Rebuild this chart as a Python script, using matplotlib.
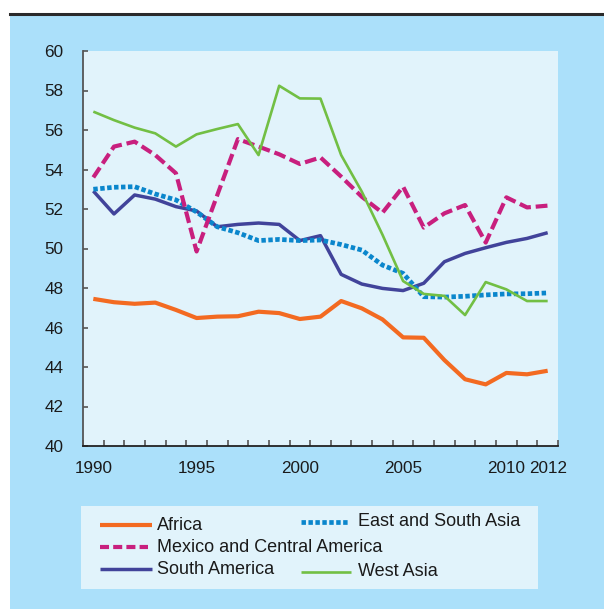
import matplotlib
matplotlib.use("Agg")
import matplotlib.pyplot as plt
from matplotlib.lines import Line2D
from matplotlib.patches import Rectangle

plt.rcParams['font.family'] = ['Liberation Sans', 'DejaVu Sans']
plt.rcParams['lines.scale_dashes'] = False

years = list(range(1990, 2013))
africa = [47.45, 47.28, 47.2, 47.26, 46.89, 46.48, 46.55, 46.57, 46.8, 46.73, 46.43, 46.55,
          47.34, 46.97, 46.41, 45.5, 45.48, 44.35, 43.38, 43.12, 43.7, 43.63, 43.81]
east_south_asia = [53.0, 53.1, 53.13, 52.76, 52.46, 51.85, 51.1, 50.8, 50.4, 50.46, 50.4, 50.43,
                   50.2, 49.92, 49.16, 48.74, 47.56, 47.54, 47.58, 47.65, 47.7, 47.71, 47.75]
mexico_central = [53.6, 55.16, 55.41, 54.73, 53.81, 49.85, 52.7, 55.54, 55.16, 54.77, 54.28, 54.61,
                  53.64, 52.62, 51.81, 53.13, 51.06, 51.78, 52.2, 50.3, 52.59, 52.08, 52.17]
south_america = [52.91, 51.75, 52.71, 52.5, 52.12, 51.9, 51.1, 51.22, 51.29, 51.22, 50.4, 50.65,
                 48.69, 48.2, 47.98, 47.87, 48.24, 49.33, 49.75, 50.04, 50.31, 50.51, 50.8]
west_asia = [56.93, 56.5, 56.12, 55.83, 55.16, 55.78, 56.05, 56.3, 54.73, 58.24, 57.6, 57.59,
             54.73, 52.88, 50.7, 48.35, 47.7, 47.6, 46.63, 48.3, 47.93, 47.34, 47.34]

x_labels = [1990, 1995, 2000, 2005, 2010, 2012]
y_ticks = list(range(40, 61, 2))

c_africa = '#f36a21'
c_esa = '#0a86cc'
c_mex = '#c81f7e'
c_sam = '#41439a'
c_wa = '#72bf44'

W, H = 604, 609
fig = plt.figure(figsize=(W / 100, H / 100), dpi=100, facecolor='white')

# background panel and top rule
bg = Rectangle((10 / W, 0), 1 - 10 / W, (H - 16) / H, transform=fig.transFigure,
               facecolor='#abe0fa', edgecolor='none', zorder=-10)
fig.patches.append(bg)
fig.add_artist(Line2D([10 / W, 1], [(H - 13.5) / H, (H - 13.5) / H], transform=fig.transFigure,
                      color='#2a2a2a', lw=2.2, zorder=-5))

ax = fig.add_axes([83 / W, (H - 446) / H, (558 - 83) / W, (446 - 51) / H])
ax.set_facecolor('#e1f3fb')

style = dict(solid_capstyle='butt', dash_capstyle='butt')
ax.plot(years, africa, color=c_africa, lw=3.0, zorder=3, **style)
ax.plot(years, south_america, color=c_sam, lw=2.5, zorder=4, **style)
ax.plot(years, east_south_asia, color=c_esa, lw=3.4, linestyle=(0, (3.2, 1.8)), zorder=5, **style)
ax.plot(years, mexico_central, color=c_mex, lw=3.0, linestyle=(0, (8.5, 3.5)), zorder=6, **style)
ax.plot(years, west_asia, color=c_wa, lw=1.9, zorder=7, **style)

ax.set_xlim(1989.5, 2012.5)
ax.set_ylim(40, 60)
ax.set_yticks(y_ticks)
ax.set_xticks(x_labels)
ax.set_xticks([y + 0.5 for y in range(1989, 2013)], minor=True)
ax.tick_params(axis='x', which='major', length=0, pad=10.5, labelsize=12.3, labelcolor='#1a1a1a')
ax.tick_params(axis='x', which='minor', direction='in', length=4.5, width=1.2, color='#555555')
ax.tick_params(axis='y', which='major', direction='in', length=3.5, width=1.2, color='#555555',
               pad=14, labelsize=12.3, labelcolor='#1a1a1a')
for s in ['top', 'right']:
    ax.spines[s].set_visible(False)
ax.spines['left'].set_color('#555555')
ax.spines['left'].set_linewidth(1.3)
ax.spines['bottom'].set_color('#222222')
ax.spines['bottom'].set_linewidth(1.3)

# legend box
lax = fig.add_axes([81 / W, (H - 589) / H, (538 - 81) / W, (589 - 506) / H])
lax.set_xlim(81, 538)
lax.set_ylim(589, 506)
lax.set_facecolor('#e1f3fb')
lax.set_xticks([])
lax.set_yticks([])
for s in lax.spines.values():
    s.set_visible(False)

entries = [
    ('Africa', c_africa, 3.0, '-', 100, 152, 525),
    ('Mexico and Central America', c_mex, 3.0, (0, (6.5, 3.0)), 100, 148, 547),
    ('South America', c_sam, 2.5, '-', 100, 152, 569),
    ('East and South Asia', c_esa, 3.4, (0, (3.2, 1.8)), 301, 349, 522),
    ('West Asia', c_wa, 1.9, '-', 301, 351, 572),
]
for label, col, lw, ls, x0, x1, yy in entries:
    lax.add_line(Line2D([x0, x1], [yy, yy], color=col, lw=lw, linestyle=ls,
                        solid_capstyle='butt', dash_capstyle='butt'))
    lax.text(358 if x0 > 200 else 157, yy, label, fontsize=13, color='#1a1a1a',
             va='center', ha='left')

fig.savefig('out.png', dpi=100, facecolor=fig.get_facecolor())
